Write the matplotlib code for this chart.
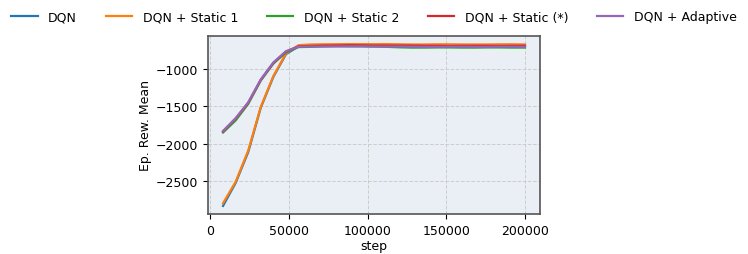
import matplotlib
matplotlib.use("Agg")
import matplotlib.pyplot as plt
import numpy as np

steps = list(range(8000, 200001, 8000))

dqn = [-2825, -2520, -2110, -1520, -1110, -810, -705, -690, -688, -690, -692, -690, -692, -695, -698, -700, -702, -700, -698, -700, -700, -702, -700, -698, -700]
static1 = [-2790, -2505, -2090, -1510, -1100, -800, -690, -680, -678, -676, -675, -675, -676, -675, -678, -680, -680, -678, -678, -680, -680, -680, -678, -678, -680]
static2 = [-1850, -1690, -1470, -1160, -935, -785, -715, -712, -705, -700, -705, -705, -708, -712, -718, -722, -722, -720, -720, -722, -722, -720, -720, -722, -722]
static_star = [-1835, -1665, -1455, -1150, -925, -775, -705, -700, -695, -695, -690, -692, -695, -695, -695, -695, -698, -698, -700, -698, -698, -698, -700, -698, -698]
adaptive = [-1830, -1660, -1450, -1145, -920, -770, -710, -708, -708, -708, -705, -705, -708, -710, -708, -710, -712, -712, -710, -710, -712, -712, -710, -710, -712]

series = [
    ("DQN", dqn, "#1f77b4"),
    ("DQN + Static 1", static1, "#ff7f0e"),
    ("DQN + Static 2", static2, "#2ca02c"),
    ("DQN + Static (*)", static_star, "#d62728"),
    ("DQN + Adaptive", adaptive, "#9467bd"),
]

fs = 9
fig = plt.figure(figsize=(7.48, 2.55), dpi=100)
ax = fig.add_axes([0.278, 0.157, 0.444, 0.698])
ax.set_facecolor("#eaeef5")
for label, vals, c in series:
    ax.plot(steps, vals, color=c, lw=1.6, label=label)
ax.grid(True, color="#cccccc", linestyle="--", linewidth=0.7)
ax.set_axisbelow(True)
for s in ax.spines.values():
    s.set_color("#555555")
    s.set_linewidth(1.2)
ax.set_xlabel("step", fontsize=fs, labelpad=1.5)
ax.set_ylabel("Ep. Rew. Mean", fontsize=fs, labelpad=2.5)
ax.tick_params(labelsize=fs)
ax.set_xticks([0, 50000, 100000, 150000, 200000])
ax.set_yticks([-2500, -2000, -1500, -1000])
fig.legend(*ax.get_legend_handles_labels(), loc="upper center", ncol=5, frameon=False,
           fontsize=fs, bbox_to_anchor=(0.5, 1.0), columnspacing=2.3,
           handlelength=2.1, handletextpad=0.85)
fig.savefig("out.png", dpi=100)
